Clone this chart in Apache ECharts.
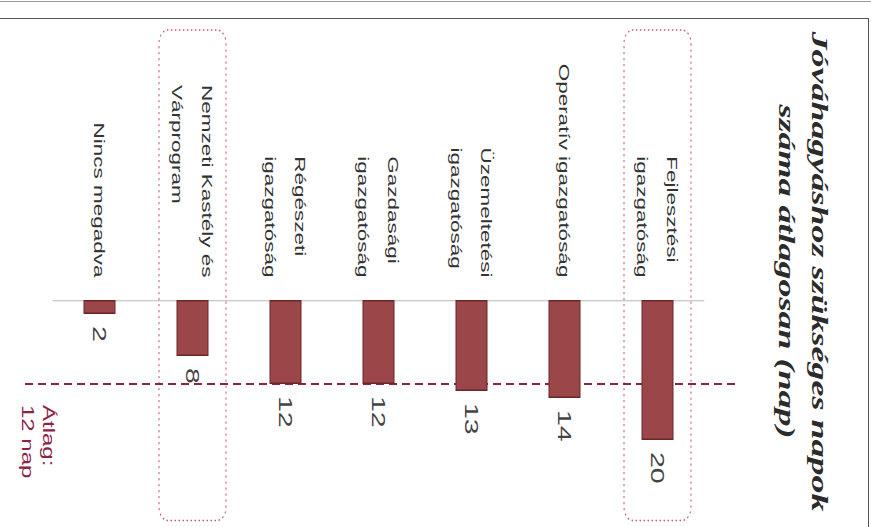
<!DOCTYPE html>
<html>
<head>
<meta charset="utf-8">
<title>Jóváhagyáshoz szükséges napok</title>
<script src="https://cdn.jsdelivr.net/npm/echarts@6/dist/echarts.min.js"></script>
<style>
  html, body { margin: 0; padding: 0; background: #fff; width: 871px; height: 527px; overflow: hidden; position: relative; }
  /* The chart is laid out as a horizontal bar chart and turned a quarter turn clockwise,
     with the text direction drawn 1.5x longer than the line direction. */
  #chart { position: absolute; left: 0; top: 0; width: 352px; height: 871px;
           transform-origin: 0 0; transform: matrix(0, 1.5, -1, 0, 871, 0); }
  .rule { position: absolute; background: #555; }
</style>
</head>
<body>
<div class="rule" style="left:0;top:1px;width:871px;height:1px;background:#9a9a9a"></div>
<div class="rule" style="left:0;top:18px;width:869px;height:1px"></div>
<div class="rule" style="left:868px;top:18px;width:1px;height:509px"></div>
<div id="chart"></div>
<script>
// Organisational units and the average number of days needed for approval
const categories = [
  'Fejlesztési\nigazgatóság',
  'Operatív igazgatóság',
  'Üzemeltetési\nigazgatóság',
  'Gazdasági\nigazgatóság',
  'Régészeti\nigazgatóság',
  'Nemzeti Kastély és\nVárprogram',
  'Nincs megadva'
];
const days = [20, 14, 13, 12, 12, 8, 2];
const averageDays = 12;
const highlighted = ['Fejlesztési\nigazgatóság', 'Nemzeti Kastély és\nVárprogram'];
const titleLines = ['Jóváhagyáshoz szükséges napok', 'száma átlagosan (nap)'];

const BAR_COLOR = '#9b4749';
const AVG_COLOR = '#8b2346';

const chart = echarts.init(document.getElementById('chart'), null, { renderer: 'svg' });

chart.setOption({
  animation: false,
  title: {
    text: titleLines.join('\n'),
    left: 181,
    top: 35,
    padding: 0,
    textAlign: 'center',
    textStyle: {
      fontFamily: 'Liberation Serif',
      fontStyle: 'italic',
      fontWeight: 'bold',
      fontSize: 24,
      lineHeight: 33,
      color: '#2b2b2b'
    }
  },
  grid: { left: 200, top: 167, width: 140, height: 651 },
  xAxis: { type: 'value', min: 0, max: 30, show: false },
  yAxis: {
    type: 'category',
    inverse: true,
    data: categories,
    axisLine: { lineStyle: { color: '#b8b8b8', width: 0.8 } },
    axisTick: { show: false },
    axisLabel: {
      interval: 0,
      margin: 15,
      formatter: v => v.split('\n').map(s => '{t|' + s + '}').join('\n'),
      rich: {
        t: { align: 'left', fontFamily: 'Liberation Sans', fontSize: 15, lineHeight: 30, color: '#333' }
      }
    }
  },
  series: [{
    type: 'bar',
    data: days,
    barWidth: 32,
    itemStyle: { color: BAR_COLOR, borderColor: '#6a2628', borderWidth: 1 },
    label: {
      show: true,
      position: 'right',
      distance: 8,
      fontFamily: 'Liberation Sans',
      fontSize: 19,
      color: '#444'
    }
  }]
});

// Average line, its caption and the dotted frames around the highlighted units
const xAvg = chart.convertToPixel({ xAxisIndex: 0 }, averageDays);
const graphics = [];
highlighted.forEach(name => {
  const y = chart.convertToPixel({ yAxisIndex: 0 }, name);
  graphics.push({
    type: 'rect', z: 1,
    shape: { x: 20, y: y - 33.5, width: 327, height: 67, r: 9 },
    style: { fill: 'none', stroke: '#c9576c', lineWidth: 1, lineDash: [1.5, 2.5] }
  });
});
graphics.push({
  type: 'line', z: 1,
  shape: { x1: xAvg, y1: 136, x2: xAvg, y2: 846 },
  style: { stroke: AVG_COLOR, lineWidth: 1.4, lineDash: [8, 5] }
});
graphics.push({
  type: 'text', z: 1,
  x: xAvg + 14, y: 812,
  style: {
    text: 'Átlag:\n' + averageDays + ' nap',
    fontFamily: 'Liberation Sans', fontSize: 16, lineHeight: 21,
    fill: AVG_COLOR, align: 'left', verticalAlign: 'top'
  }
});
chart.setOption({ graphic: graphics });
</script>
</body>
</html>
